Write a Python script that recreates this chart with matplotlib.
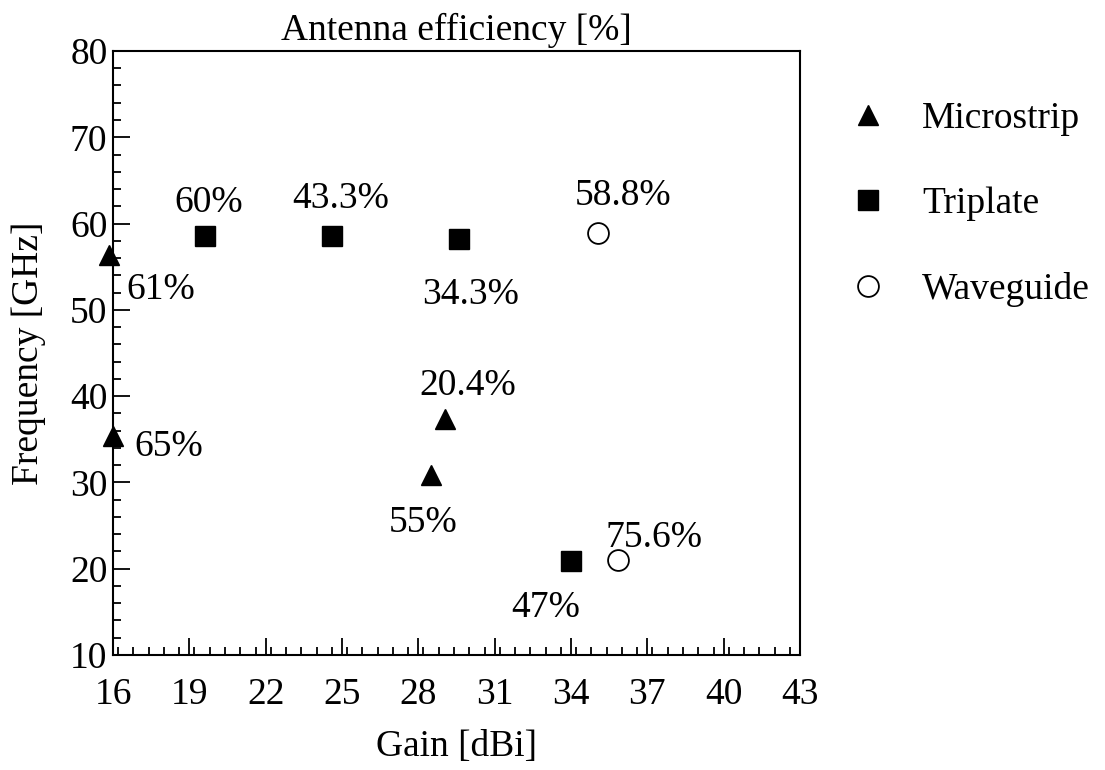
import matplotlib.pyplot as plt
from matplotlib.ticker import MultipleLocator

# === Data ===
micro_gain = [15.85, 16.0, 28.5, 29.05]
micro_freq = [56.3, 35.4, 30.9, 37.3]
micro_eff = ["61%", "65%", "55%", "20.4%"]

tri_gain = [19.6, 24.6, 29.6, 34.0]
tri_freq = [58.5, 58.5, 58.2, 20.9]
tri_eff = ["60%", "43.3%", "34.3%", "47%"]

wg_gain = [35.05, 35.85]
wg_freq = [58.9, 21.0]
wg_eff = ["58.8%", "75.6%"]

x_ticks = [16, 19, 22, 25, 28, 31, 34, 37, 40, 43]
y_ticks = [10, 20, 30, 40, 50, 60, 70, 80]

# === Label placement (offset points from each marker) ===
micro_off = [(37, -25), (40, -8), (-6, -35), (16, 24)]
tri_off = [(3, 24), (6, 27), (8, -40), (-18, -34)]
wg_off = [(18, 27), (26, 16)]

plt.rcParams['font.family'] = ['Liberation Serif', 'DejaVu Serif']
FS = 27

fig = plt.figure(figsize=(11.05, 7.7), dpi=100)
ax = fig.add_axes([0.1023, 0.1494, 0.6217, 0.7844])

ax.plot(micro_gain, micro_freq, linestyle='none', marker='^', ms=14.5,
        color='black', clip_on=False, label='Microstrip')
ax.plot(tri_gain, tri_freq, linestyle='none', marker='s', ms=15,
        color='black', clip_on=False, label='Triplate')
ax.plot(wg_gain, wg_freq, linestyle='none', marker='o', ms=15,
        markerfacecolor='white', markeredgecolor='black', mew=1.3,
        clip_on=False, label='Waveguide')

for xs, ys, labs, offs in [(micro_gain, micro_freq, micro_eff, micro_off),
                           (tri_gain, tri_freq, tri_eff, tri_off),
                           (wg_gain, wg_freq, wg_eff, wg_off)]:
    for x, y, lab, off in zip(xs, ys, labs, offs):
        ax.annotate(lab, (x, y), xytext=off, textcoords='offset points',
                    ha='center', va='center', fontsize=FS,
                    annotation_clip=False)

ax.set_xlim(16, 43)
ax.set_ylim(10, 80)
ax.set_xticks(x_ticks)
ax.set_yticks(y_ticks)
ax.xaxis.set_minor_locator(MultipleLocator(0.6))
ax.yaxis.set_minor_locator(MultipleLocator(2))
ax.tick_params(which='both', direction='in', labelsize=FS, width=1.3,
               top=False, right=False)
ax.tick_params(which='major', length=12)
ax.tick_params(which='minor', length=6)
ax.tick_params(axis='x', which='major', pad=16)
ax.tick_params(axis='y', which='major', pad=4)
for sp in ax.spines.values():
    sp.set_linewidth(1.5)

ax.set_title("Antenna efficiency [%]", fontsize=FS, pad=8)
ax.set_xlabel("Gain [dBi]", fontsize=FS, labelpad=13)
ax.set_ylabel("Frequency [GHz]", fontsize=FS, labelpad=17)

ax.legend(loc='upper left', bbox_to_anchor=(1.022, 0.972), frameon=False,
          fontsize=FS, labelspacing=1.35, handletextpad=0.95, handlelength=1.0,
          numpoints=1)

fig.savefig("out.png", dpi=100)
